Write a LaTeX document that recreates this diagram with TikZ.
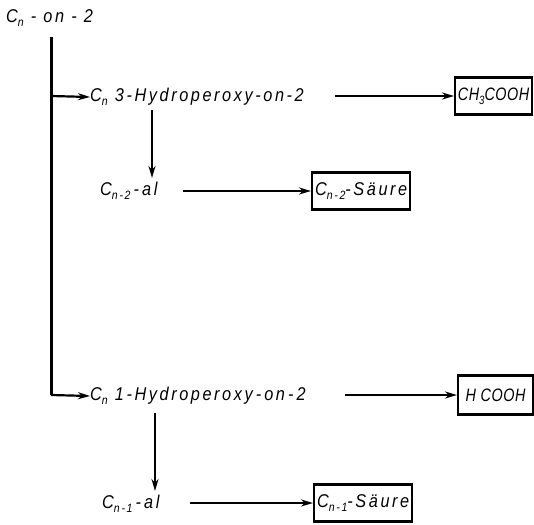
\documentclass[tikz,border=0pt]{standalone}
\usepackage{fontspec}
\setmainfont{Liberation Sans}[FakeStretch=0.88,LetterSpace=14]
\newfontfamily\boxfont{Liberation Sans}[FakeStretch=0.8,LetterSpace=3]
\usetikzlibrary{arrows.meta}
\newcommand\mysub[1]{\raisebox{-0.45ex}{\fontsize{12}{12}\selectfont #1}}
\begin{document}
\begin{tikzpicture}[x=1pt,y=-1pt,
  lbl/.style={inner sep=0pt,font=\fontsize{18.5}{18.5}\selectfont\itshape,anchor=west},
  res/.style={draw,line width=2.2pt,inner sep=3pt,minimum height=37pt,anchor=west,font=\fontsize{18.5}{18.5}\selectfont\itshape},
  arr/.style={line width=2.2pt,-{Stealth[length=12pt,width=7pt]}},
  trunk/.style={line width=3pt}]
\useasboundingbox (0,0) rectangle (534,524);
% top
\node[lbl] (A) at (6,18) {C\mysub{n} - on - 2};
\coordinate (T0) at (51,37);
\coordinate (T1) at (51,96);
\coordinate (T2) at (51,395);
\draw[trunk] (T0) -- (T2);
% branch 1
\node[lbl] (B1) at (90,97) {C\mysub{n} 3-Hydroperoxy-on-2};
\draw[arr] (T1) -- (B1.west);
\node[res,minimum width=77pt,inner sep=2pt,font=\fontsize{18}{18}\selectfont\boxfont\itshape] (R1) at (454,96) {CH\mysub{3}COOH};
\coordinate (S1) at (335,96);
\draw[arr] (S1) -- (R1.west);
\node[lbl] (C1) at (100,191) {C\mysub{n-2}\,-\,al};
\draw[arr] (152,110) -- (152,178);
\coordinate (S2) at (183,191);
\node[res] (R2) at (311,191) {C\mysub{n-2}-Säure};
\draw[arr] (S2) -- (R2.west);
% branch 2
\node[lbl] (B2) at (90,396) {C\mysub{n} 1-Hydroperoxy\,-\,on\,-\,2};
\draw[arr] (T2) -- (B2.west);
\node[res,minimum width=75pt,minimum height=39pt,font=\fontsize{18}{18}\selectfont\boxfont\itshape] (R3) at (457,395) {H COOH};
\coordinate (S3) at (345,395);
\draw[arr] (S3) -- (R3.west);
\node[lbl] (C2) at (102,504) {C\mysub{n-1}\,-\,al};
\draw[arr] (155,413) -- (155,491);
\coordinate (S4) at (190,503);
\node[res] (R4) at (313,503) {C\mysub{n-1}-Säure};
\draw[arr] (S4) -- (R4.west);
\end{tikzpicture}
\end{document}
